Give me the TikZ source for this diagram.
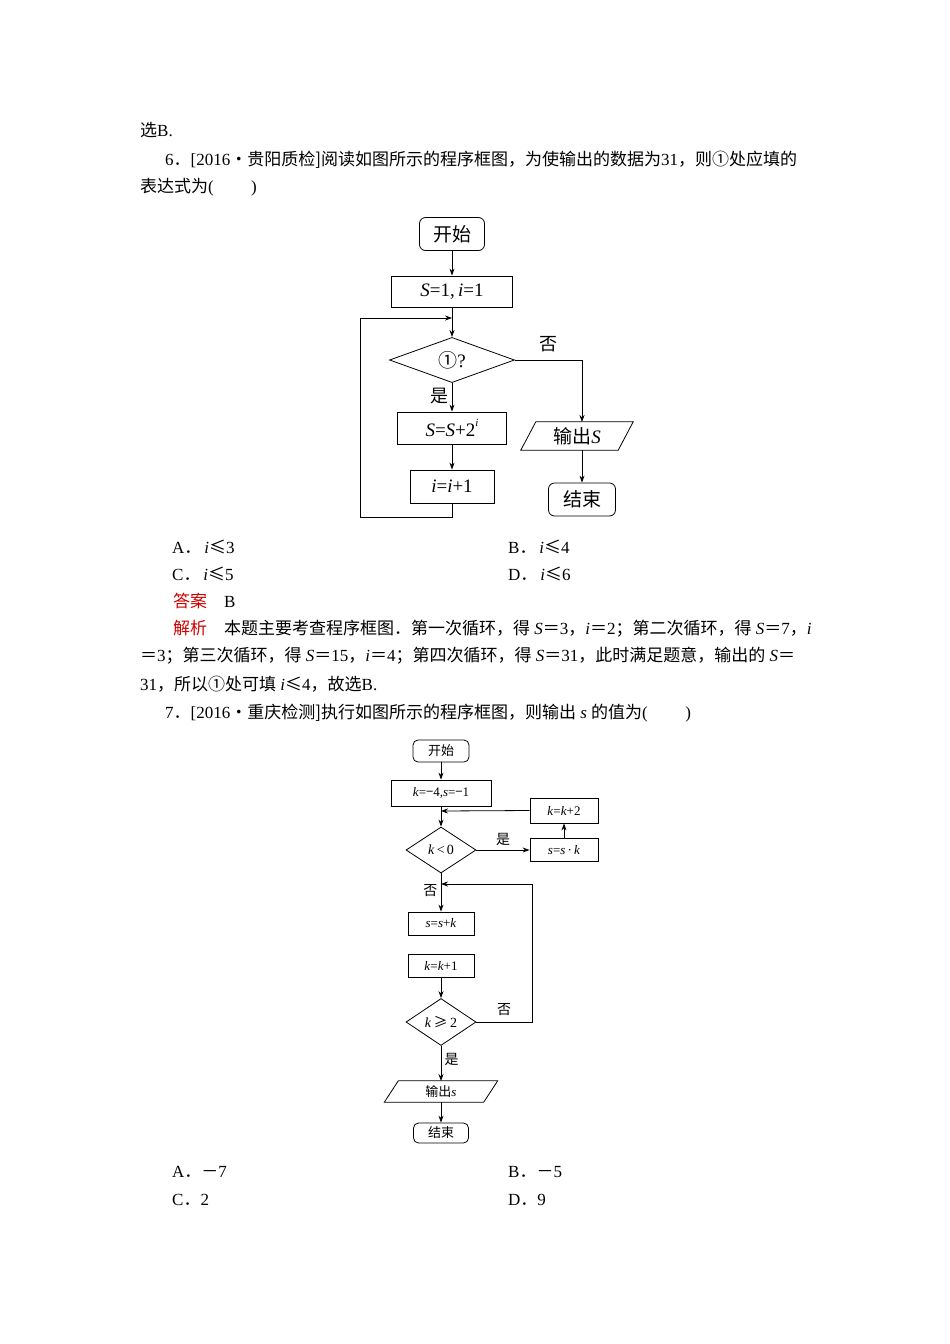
\documentclass[tikz,border=0pt]{standalone}
\usepackage{fontspec}
\setmainfont{Liberation Serif}
\newfontfamily\zhf{Noto Sans CJK SC}
\newcommand\zh[1]{{\zhf #1}}
\usetikzlibrary{arrows.meta,shapes.geometric}
\begin{document}
\begin{tikzpicture}[x=1pt,y=-1pt,
  txt/.style={anchor=west,inner sep=0,font=\fontsize{17}{17}\selectfont},
  ln/.style={line width=0.8pt},
  arr/.style={ln,-{Stealth[length=7pt,width=5pt]}},
  boxa/.style={draw,ln,inner sep=0,font=\fontsize{19}{19}\selectfont},
  boxb/.style={draw,ln,inner sep=0,font=\fontsize{13}{13}\selectfont}]
\useasboundingbox (0,0) rectangle (950,1344);
% ---- text ----
\node[txt] (t1) at (140,130) {\zh{选}B.};
\node[txt] (t2) at (165,160) {6\zh{．}[2016\zh{·贵阳质检]阅读如图所示的程序框图，为使输出的数据为}31\zh{，则①处应填的}};
\node[txt] (t3) at (140,187) {\zh{表达式为}(\hspace{2.2em})};
\node[txt] (oa) at (172,547) {A\zh{．}\,\textit{i}\zh{≤}3};
\node[txt] (ob) at (508,547) {B\zh{．}\,\textit{i}\zh{≤}4};
\node[txt] (oc) at (172,574) {C\zh{．}\,\textit{i}\zh{≤}5};
\node[txt] (od) at (508,574) {D\zh{．}\,\textit{i}\zh{≤}6};
\node[txt] (ans) at (173,601) {\textcolor{red!80!black}{\zh{答案}}\hspace{1em}B};
\node[txt] (j1) at (173,629) {\textcolor{red!80!black}{\zh{解析}}\hspace{1em}\zh{本题主要考查程序框图．第一次循环，得} \textit{S}\zh{＝}3\zh{，}\textit{i}\zh{＝}2\zh{；第二次循环，得} \textit{S}\zh{＝}7\zh{，}\textit{i}};
\node[txt] (j2) at (140,656) {\zh{＝}3\zh{；第三次循环，得} \textit{S}\zh{＝}15\zh{，}\textit{i}\zh{＝}4\zh{；第四次循环，得} \textit{S}\zh{＝}31\zh{，此时满足题意，输出的} \textit{S}\zh{＝}};
\node[txt] (j3) at (140,684) {31\zh{，所以①处可填} \textit{i}\zh{≤}4\zh{，故选}B.};
\node[txt] (t7) at (165,713) {7\zh{．}[2016\zh{·重庆检测]执行如图所示的程序框图，则输出} \textit{s} \zh{的值为}(\hspace{2.2em})};
\node[txt] (pa) at (172,1172) {A\zh{．}\zh{－}7};
\node[txt] (pb) at (508,1172) {B\zh{．}\zh{－}5};
\node[txt] (pc) at (172,1200) {C\zh{．}2};
\node[txt] (pd) at (508,1200) {D\zh{．}9};
% ---- flowchart 1 ----
\node[boxa,rounded corners=6pt,minimum width=65pt,minimum height=33pt] (a0) at (452,234) {\zh{开始}};
\node[boxa,minimum width=121pt,minimum height=31pt] (a1) at (452,291.5) {\textit{S}=1,\,\textit{i}=1};
\node[draw,ln,diamond,minimum width=125pt,minimum height=44pt,inner sep=0,font=\fontsize{19}{19}\selectfont] (a2) at (452,360) {\zh{①}?};
\node[boxa,minimum width=109pt,minimum height=32pt] (a3) at (452,428) {\textit{S}=\textit{S}+2\raisebox{1.2ex}{\fontsize{11}{11}\selectfont\textit{i}}};
\node[boxa,minimum width=84pt,minimum height=33pt] (a4) at (452,486.5) {\textit{i}=\textit{i}+1};
\node[inner sep=0,minimum width=92pt,minimum height=28pt,font=\fontsize{19}{19}\selectfont] (a5) at (577,436) {\zh{输出}\textit{S}};
\draw[ln] ([xshift=5pt]a5.north west) -- ([xshift=10pt]a5.north east) -- ([xshift=-5pt]a5.south east) -- ([xshift=-10pt]a5.south west) -- cycle;
\node[boxa,rounded corners=6pt,minimum width=67pt,minimum height=33pt] (a6) at (582,499.5) {\zh{结束}};
\coordinate (c1) at (452,318);
\draw[arr] (a0) -- (a1);
\draw[arr] (a1) -- (a2);
\draw[arr] (a2) -- node[pos=0.45,left,font=\fontsize{18}{18}\selectfont\zhf]{是} (a3);
\draw[arr] (a3) -- (a4);
\draw[arr] (a4.south) -- (452,517) -- (360,517) -- (360,318) -- (c1);
\draw[arr] (a2.east) -- node[above,pos=0.5,yshift=4pt,font=\fontsize{18}{18}\selectfont\zhf]{否} (582,360) -- (582,422);
\draw[arr] (582,450) -- (a6);
% ---- flowchart 2 ----
\node[boxb,rounded corners=5pt,minimum width=56pt,minimum height=22pt] (b0) at (441,751) {\zh{开始}};
\node[boxb,minimum width=100pt,minimum height=26pt] (b1) at (441,793) {\textit{k}=\zh{−}4,\textit{s}=\zh{−}1};
\node[draw,ln,diamond,minimum width=70pt,minimum height=46pt,inner sep=0,font=\fontsize{14}{14}\selectfont] (b2) at (441,850) {\textit{k}\,<\,0};
\node[boxb,minimum width=68pt,minimum height=25pt] (b3) at (564,810.5) {\textit{k}=\textit{k}+2};
\node[boxb,minimum width=68pt,minimum height=23pt] (b4) at (564,850) {\textit{s}=\textit{s}\,·\,\textit{k}};
\node[boxb,minimum width=66pt,minimum height=23pt] (b5) at (441,923.5) {\textit{s}=\textit{s}+\textit{k}};
\node[boxb,minimum width=66pt,minimum height=23pt] (b6) at (441,965.5) {\textit{k}=\textit{k}+1};
\node[draw,ln,diamond,minimum width=70pt,minimum height=47pt,inner sep=0,font=\fontsize{14}{14}\selectfont] (b7) at (441,1022) {\textit{k}\,\zh{≥}\,2};
\node[inner sep=0,minimum width=95pt,minimum height=21pt,font=\fontsize{13}{13}\selectfont] (b8) at (441,1091.5) {\zh{输出}\textit{s}};
\draw[ln] ([xshift=5pt]b8.north west) -- ([xshift=9pt]b8.north east) -- ([xshift=-5pt]b8.south east) -- ([xshift=-9pt]b8.south west) -- cycle;
\node[boxb,rounded corners=5pt,minimum width=55pt,minimum height=20pt] (b9) at (441,1133) {\zh{结束}};
\coordinate (d1) at (441,811);
\coordinate (d2) at (441,884);
\draw[arr] (b0) -- (b1);
\draw[arr] (b1) -- (b2);
\draw[arr] (b2.east) -- node[above,yshift=1pt,font=\fontsize{14}{14}\selectfont\zhf]{是} (b4.west);
\draw[arr] (b4) -- (b3);
\draw[arr] (b3.west) -- (d1);
\draw[arr] (b2.south) -- node[pos=0.45,left,font=\fontsize{14}{14}\selectfont\zhf]{否} (b5.north);
\draw[arr] (b6) -- (b7);
\draw[arr] (b7.east) -- node[above,yshift=3pt,font=\fontsize{14}{14}\selectfont\zhf]{否} (532,1022) -- (532,884) -- (d2);
\draw[arr] (b7.south) -- node[pos=0.4,right,font=\fontsize{14}{14}\selectfont\zhf]{是} (441,1081);
\draw[arr] (441,1102) -- (b9);
\end{tikzpicture}
\end{document}
